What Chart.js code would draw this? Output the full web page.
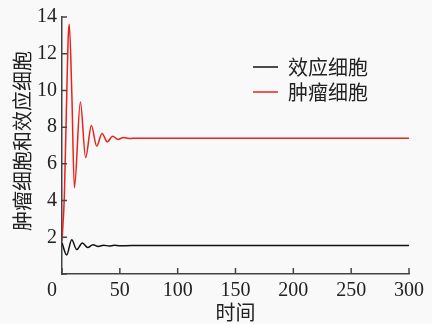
<!DOCTYPE html>
<html>
<head>
<meta charset="utf-8">
<script src="https://cdn.jsdelivr.net/npm/chart.js@4/dist/chart.umd.min.js"></script>
<style>
body { margin: 0; background: #f9f9f9; }
#chart { display: block; }
</style>
</head>
<body>
<canvas id="chart" width="432" height="324"></canvas>
<script>
let xTicks = [0, 50, 100, 150, 200, 250, 300];
let yTicks = [0, 2, 4, 6, 8, 10, 12, 14];

// 效应细胞 (black)
let effectorT = [0, 4, 8.4, 12.7, 17.6, 22.2, 26.8, 31.4, 36, 40.6, 45.2, 50, 60, 300];
let effectorY = [1.7, 1.03, 1.87, 1.33, 1.69, 1.44, 1.6, 1.5, 1.57, 1.52, 1.56, 1.54, 1.55, 1.55];

// 肿瘤细胞 (red)
let tumorT = [0, 2, 4, 5.3, 6.3, 8.5, 10.7, 15.9, 20.4, 25.4, 30, 34.6, 39.2, 43.8, 48.4, 53, 58, 65, 300];
let tumorY = [1.8, 4.2, 9.5, 12.8, 13.6, 9.8, 4.7, 9.37, 6.34, 8.09, 6.97, 7.66, 7.2, 7.51, 7.33, 7.43, 7.38, 7.4, 7.4];

function toPoints(ts, ys) {
    return ts.map((t, i) => ({ x: t, y: ys[i] }));
}

let serif = "'Liberation Serif', 'Times New Roman', Times, serif";
let cjk = "'Noto Sans CJK SC', sans-serif";

Chart.defaults.font.family = serif;
Chart.defaults.color = "#222";

// ticks pointing into the plot
let inwardTicks = {
    id: 'inwardTicks',
    afterDatasetsDraw(chart) {
        let ctx = chart.ctx;
        let x = chart.scales.x, y = chart.scales.y;
        ctx.save();
        ctx.strokeStyle = "#444";
        ctx.lineWidth = 1.5;
        ctx.beginPath();
        x.ticks.forEach(t => {
            let px = x.getPixelForValue(t.value);
            ctx.moveTo(px, x.top);
            ctx.lineTo(px, x.top - 6);
        });
        y.ticks.forEach(t => {
            let py = y.getPixelForValue(t.value);
            ctx.moveTo(y.right, py);
            ctx.lineTo(y.right + 5, py);
        });
        ctx.stroke();
        ctx.restore();
    }
};

// put legend inside the plot, top right
let moveLegend = {
    id: 'moveLegend',
    afterLayout(chart) {
        let lg = chart.legend;
        let w = lg.width;
        lg.left = 248;
        lg.top = 52;
        lg.right = lg.left + w;
        lg.bottom = lg.top + 64;
        lg.height = 64;
    }
};

let chart = new Chart(document.getElementById("chart"), {
    type: 'line',
    data: {
        datasets: [{
            label: '效应细胞',
            data: toPoints(effectorT, effectorY),
            borderColor: '#111',
            backgroundColor: '#111',
            borderWidth: 1.5,
            pointRadius: 0,
            cubicInterpolationMode: 'monotone'
        }, {
            label: '肿瘤细胞',
            data: toPoints(tumorT, tumorY),
            borderColor: '#e8221c',
            backgroundColor: '#e8221c',
            borderWidth: 1.5,
            pointRadius: 0,
            cubicInterpolationMode: 'monotone'
        }]
    },
    options: {
        responsive: false,
        animation: false,
        layout: { padding: { left: 0, right: 23, top: 15, bottom: 0 } },
        plugins: {
            tooltip: { enabled: false },
            legend: {
                position: 'chartArea',
                align: 'start',
                labels: {
                    usePointStyle: true,
                    pointStyle: 'line',
                    pointStyleWidth: 25,
                    padding: 5,
                    color: '#222',
                    font: { family: cjk, size: 20 }
                }
            }
        },
        scales: {
            x: {
                type: 'linear',
                min: 0,
                max: 300,
                afterFit: s => { s.height = 50; },
                afterBuildTicks: s => { s.ticks = xTicks.map(v => ({ value: v })); },
                grid: { display: false, drawTicks: false },
                border: { display: true, color: '#444', width: 1.5 },
                ticks: {
                    padding: 5,
                    maxRotation: 0,
                    autoSkip: false,
                    font: { family: serif, size: 20 },
                    color: '#222',
                    callback: v => v === 0 ? '0    ' : String(v)
                },
                title: {
                    display: true,
                    text: '时间',
                    color: '#222',
                    padding: 0,
                    font: { family: cjk, size: 20 }
                }
            },
            y: {
                min: 0,
                max: 14,
                afterFit: s => { s.width = 62; },
                afterBuildTicks: s => { s.ticks = yTicks.map(v => ({ value: v })); },
                grid: { display: false, drawTicks: false },
                border: { display: true, color: '#444', width: 1.5 },
                ticks: {
                    padding: 5,
                    font: { family: serif, size: 20 },
                    color: '#222',
                    callback: v => v === 0 ? '' : String(v)
                },
                title: {
                    display: true,
                    text: '  肿瘤细胞和效应细胞',
                    color: '#222',
                    padding: { top: 10, bottom: 0 },
                    font: { family: cjk, size: 20 }
                }
            }
        }
    },
    plugins: [inwardTicks, moveLegend]
});
</script>
</body>
</html>
